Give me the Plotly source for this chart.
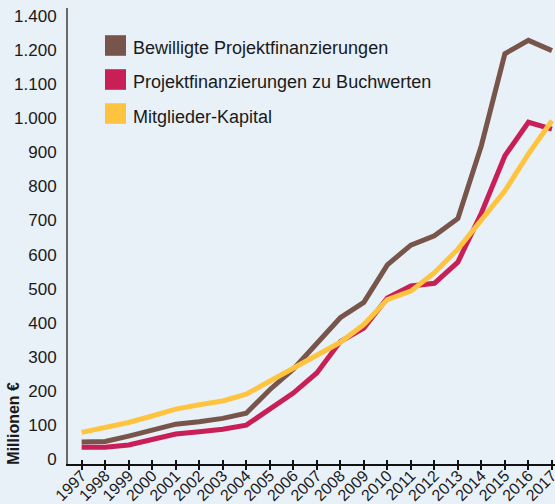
import plotly.graph_objects as go

years = list(range(1997, 2018))
bewilligte = [51, 52, 68, 86, 103, 110, 120, 135, 204, 264, 338, 415, 460, 570, 628, 655, 706, 920, 1189, 1228, 1198]
buchwerte = [35, 35, 42, 59, 74, 81, 88, 100, 145, 194, 253, 345, 385, 473, 508, 516, 578, 722, 890, 988, 968]
kapital = [79, 94, 108, 127, 147, 160, 171, 191, 228, 265, 302, 343, 395, 468, 493, 547, 616, 700, 787, 895, 993]

series_names = ["Bewilligte Projektfinanzierungen", "Projektfinanzierungen zu Buchwerten", "Mitglieder-Kapital"]
series_colors = ["#77554B", "#C91F57", "#FFC43F"]
series_values = [bewilligte, buchwerte, kapital]

ytick_vals = list(range(0, 1400, 100))
ytick_text = ["0", "100", "200", "300", "400", "500", "600", "700", "800", "900",
              "1.000", "1.100", "1.200", "1.400"]

FONT = "Liberation Sans, Arial, sans-serif"
BG = "#E8F0F8"

fig = go.Figure()
for name, col, vals in zip(series_names, series_colors, series_values):
    fig.add_trace(go.Scatter(x=years, y=vals, mode="lines", name=name,
                             line=dict(color=col, width=5), showlegend=False))

# invisible trace carrying the inside half of the crossing ticks
fig.add_trace(go.Scatter(x=[years[0]], y=[0], xaxis="x2", mode="markers",
                         marker=dict(opacity=0), showlegend=False, hoverinfo="skip"))

fig.update_layout(
    width=555, height=504,
    margin=dict(l=68, r=0, t=8, b=40, autoexpand=False),
    paper_bgcolor=BG, plot_bgcolor=BG,
    font=dict(family=FONT, size=16, color="#1a1a1a"),
    xaxis=dict(range=[1996.42, 2017.13], tickmode="array", tickvals=years,
               ticktext=[str(y) for y in years], tickangle=-45, automargin=False,
               showgrid=False, zeroline=False, showline=True, linecolor="#111111",
               linewidth=2, ticks="outside", ticklen=4, tickwidth=1.5, tickcolor="#111111",
               ticklabelstandoff=-10, ticklabeloverflow="allow",
               tickfont=dict(family=FONT, size=16, color="#1a1a1a")),
    xaxis2=dict(range=[1996.42, 2017.13], overlaying="x", tickmode="array", tickvals=years,
                showticklabels=False, showgrid=False, zeroline=False, showline=False,
                ticks="inside", ticklen=4, tickwidth=1.5, tickcolor="#111111", side="bottom",
                anchor="y", automargin=False),
    yaxis=dict(range=[-13.8, 1323], tickmode="array", tickvals=ytick_vals, ticktext=ytick_text,
               showgrid=False, zeroline=False, showline=True, linecolor="#6a6a6a", linewidth=2,
               ticks="", ticklabelstandoff=6, ticklabeloverflow="allow", automargin=False,
               tickfont=dict(family=FONT, size=17, color="#1a1a1a")),
)

# y-axis title
fig.add_annotation(text="<b>Millionen €</b>", xref="paper", yref="paper", x=-0.112, y=-0.006,
                   xanchor="center", yanchor="bottom", textangle=-90, showarrow=False,
                   font=dict(family=FONT, size=16, color="#1a1a1a"))

# legend (squares + labels)
leg_y = [45.5, 79.5, 113.5]
for name, col, yc in zip(series_names, series_colors, leg_y):
    fig.add_shape(type="rect", xref="paper", yref="paper",
                  x0=(105 - 68) / 487, x1=(126 - 68) / 487,
                  y0=(464 - (yc + 10.3)) / 456, y1=(464 - (yc - 10.3)) / 456,
                  fillcolor=col, line=dict(width=0))
    fig.add_annotation(text=name, xref="paper", yref="paper",
                       x=(131 - 68) / 487, y=(464 - (yc + 3)) / 456,
                       xanchor="left", yanchor="middle", showarrow=False,
                       font=dict(family=FONT, size=18, color="#1a1a1a"))

fig.write_html("out.html", config={"displayModeBar": False},
               post_script="document.body.style.margin='0';document.body.style.overflow='hidden';")
